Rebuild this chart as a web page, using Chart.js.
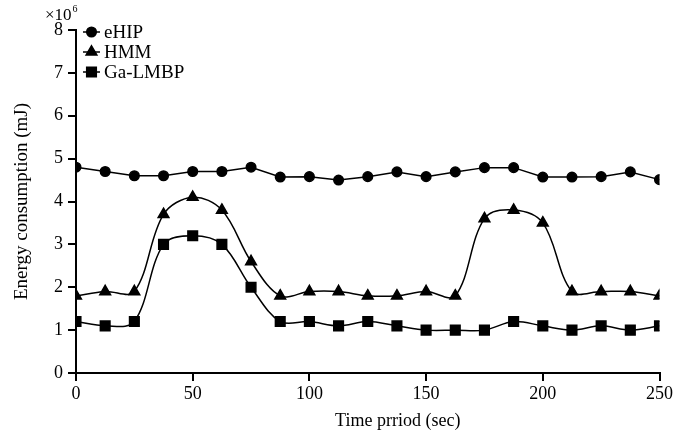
<!DOCTYPE html>
<html><head><meta charset="utf-8">
<script src="https://cdn.jsdelivr.net/npm/chart.js@4.4.1/dist/chart.umd.min.js"></script>
<style>html,body{margin:0;padding:0;background:#fff}#wrap{width:675px;height:438px;position:relative}</style>
</head><body><div id="wrap"><canvas id="c" width="675" height="438"></canvas></div>
<script>
const timePoints = [0,12.5,25,37.5,50,62.5,75,87.5,100,112.5,125,137.5,150,162.5,175,187.5,200,212.5,225,237.5,250];
const eHIP   = [4.8,4.7,4.6,4.6,4.7,4.7,4.8,4.57,4.58,4.5,4.58,4.69,4.58,4.69,4.79,4.79,4.57,4.57,4.58,4.69,4.51];
const HMM    = [1.8,1.9,1.9,3.7,4.1,3.8,2.6,1.8,1.9,1.9,1.8,1.8,1.9,1.8,3.6,3.8,3.5,1.9,1.9,1.9,1.8];
const GaLMBP = [1.2,1.1,1.2,3.0,3.2,3.0,2.0,1.2,1.2,1.1,1.2,1.1,1.0,1.0,1.0,1.2,1.1,1.0,1.1,1.0,1.1];
const seriesNames = ['eHIP','HMM','Ga-LMBP'];
const xTickValues = [0,50,100,150,200,250];
const yTickValues = [0,1,2,3,4,5,6,7,8];
const yTitle = 'Energy consumption (mJ)';
const xTitle = 'Time prriod (sec)';

const FONT = 'Liberation Serif, Times New Roman, serif';
const pts = arr => arr.map((v,i)=>({x:timePoints[i], y:v}));
const styles = ['circle','triangle','rect'];
const radii = [4.8,6.2,6.8];
const tensions = [0,0.35,0.35];
const allSeries = [eHIP, HMM, GaLMBP];

const overlay = {
  id:'overlay',
  afterDraw(chart){
    const ctx = chart.ctx;
    ctx.save();
    ctx.fillStyle='#000'; ctx.strokeStyle='#000';
    ctx.textBaseline='alphabetic'; ctx.textAlign='left';
    ctx.font = '17px ' + FONT;
    ctx.fillText('\u00d710', 45, 20);
    const w = ctx.measureText('\u00d710').width;
    ctx.font = '10px ' + FONT;
    ctx.fillText('6', 45 + w + 1, 12);
    const ys = [32,52,72];
    for (let i=0;i<3;i++){
      const y = ys[i];
      ctx.lineWidth = 1.5;
      ctx.beginPath(); ctx.moveTo(83,y); ctx.lineTo(100,y); ctx.stroke();
      Chart.helpers.drawPoint(ctx, {pointStyle: styles[i], radius: radii[i], borderWidth:1, rotation:0}, 91.5, y);
      ctx.fill();
      ctx.font = '19px ' + FONT;
      ctx.textBaseline='middle';
      ctx.fillText(seriesNames[i], 104, y+1);
    }
    ctx.restore();
  }
};

function shiftTitle(s, dx){
  if (s._shifted) return;
  const orig = s.drawTitle.bind(s);
  s.drawTitle = function(){
    const l=this.left, r=this.right;
    this.left += dx; this.right += dx;
    orig();
    this.left = l; this.right = r;
  };
  s._shifted = true;
}

new Chart(document.getElementById('c'), {
  type:'scatter',
  data:{
    datasets: allSeries.map((s,i)=>({
      label: seriesNames[i],
      data: pts(s),
      showLine:true,
      borderColor:'#000',
      backgroundColor:'#000',
      borderWidth:1.5,
      pointStyle: styles[i],
      pointRadius: radii[i],
      pointHoverRadius: radii[i],
      pointBackgroundColor:'#000',
      pointBorderColor:'#000',
      tension: tensions[i],
      cubicInterpolationMode:'default'
    }))
  },
  options:{
    responsive:false,
    animation:false,
    events:[],
    layout:{padding:{top:30,right:14,left:0,bottom:0}},
    plugins:{legend:{display:false}, tooltip:{enabled:false}},
    scales:{
      x:{
        type:'linear', min:0, max:250,
        afterBuildTicks: s => { s.ticks = xTickValues.map(v=>({value:v})); },
        afterFit: s => { s.height = 65; shiftTitle(s, 30); },
        grid:{display:true, drawOnChartArea:false, drawTicks:true, tickLength:8, color:'#000', lineWidth:2},
        border:{display:true, color:'#000', width:2},
        ticks:{color:'#000', font:{family:FONT, size:18}, padding:2, maxRotation:0},
        title:{display:true, text:xTitle, color:'#000', font:{family:FONT, size:18}, padding:{top:0,bottom:6}}
      },
      y:{
        type:'linear', min:0, max:8,
        afterBuildTicks: s => { s.ticks = yTickValues.map(v=>({value:v})); },
        afterFit: s => { s.width = 76; },
        grid:{display:true, drawOnChartArea:false, drawTicks:true, tickLength:8, color:'#000', lineWidth:2},
        border:{display:true, color:'#000', width:2},
        ticks:{color:'#000', font:{family:FONT, size:18}, padding:5},
        title:{display:true, text:yTitle, color:'#000', font:{family:FONT, size:19}, padding:{top:11,bottom:0}}
      }
    }
  },
  plugins:[overlay]
});
</script></body></html>
